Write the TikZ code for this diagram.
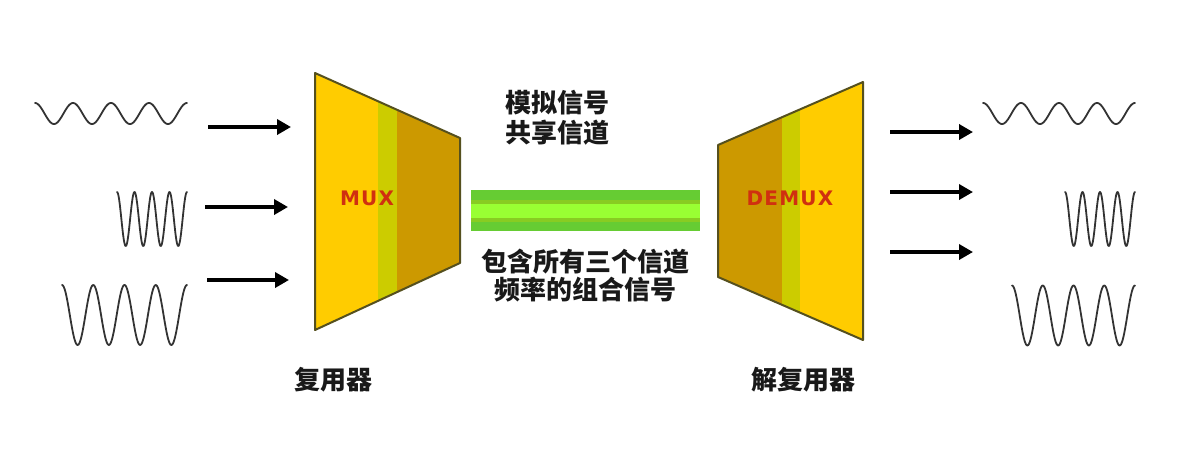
\documentclass[tikz,border=0pt]{standalone}
\usepackage{fontspec}
\usetikzlibrary{arrows.meta}
\newfontfamily\cjk{Noto Sans CJK SC}
\newfontfamily\muxfont{DejaVu Sans}[LetterSpace=6]
\definecolor{lightgold}{HTML}{FFCC00}
\definecolor{darkgold}{HTML}{CC9900}
\definecolor{stripe}{HTML}{CCCC00}
\definecolor{edgeol}{HTML}{55501E}
\definecolor{bardark}{HTML}{66CC33}
\definecolor{barmid}{HTML}{88CC22}
\definecolor{barlight}{HTML}{99FF33}
\definecolor{muxred}{HTML}{D03010}
\begin{document}
\begin{tikzpicture}[x=1pt,y=-1pt,
  wave/.style={line width=1.8pt, draw=black!80, line join=round, line cap=round},
  sigarrow/.style={line width=4pt, -{Triangle[length=14pt,width=15pt]}},
  cjklabel/.style={font=\cjk\bfseries\fontsize{26}{30}\selectfont, text=black!90, inner sep=0pt, anchor=center},
  muxlabel/.style={font=\muxfont\bfseries\fontsize{20}{24}\selectfont, text=muxred, inner sep=0pt},
  trapedge/.style={draw=edgeol, line width=2pt, line join=round}]
\fill[white] (0,0) rectangle (1202,448);
\useasboundingbox (0,0) rectangle (1202,448);

% ---------- input waves ----------
\draw[wave] plot[domain=35:187, samples=160, smooth] (\x, {113.5 - 10.5*cos((\x-35)/38*360)});
\draw[wave] plot[domain=117:187, samples=160, smooth] (\x, {219 - 27*cos((\x-117)/17.5*360)});
\draw[wave] plot[domain=62:187, samples=160, smooth] (\x, {315 - 30*cos((\x-62)/31.25*360)});

% ---------- output waves ----------
\draw[wave] plot[domain=983:1135, samples=160, smooth] (\x, {113.5 - 10.5*cos((\x-983)/38*360)});
\draw[wave] plot[domain=1065:1135, samples=160, smooth] (\x, {219 - 27*cos((\x-1065)/17.5*360)});
\draw[wave] plot[domain=1012:1135, samples=160, smooth] (\x, {315.5 - 30*cos((\x-1012)/30.75*360)});

% ---------- MUX ----------
\coordinate (mA) at (315,73);
\coordinate (mB) at (460,138);
\coordinate (mC) at (460,263);
\coordinate (mD) at (315,330);
\fill[lightgold] (mA) -- (mB) -- (mC) -- (mD) -- cycle;
\begin{scope}
  \clip (mA) -- (mB) -- (mC) -- (mD) -- cycle;
  \fill[stripe] (378,0) rectangle (397,448);
  \fill[darkgold] (397,0) rectangle (461,448);
\end{scope}
\draw[trapedge] (mA) -- (mB) -- (mC) -- (mD) -- cycle;
\node[muxlabel] (mux) at (367,198) {MUX};

% ---------- DEMUX ----------
\coordinate (dA) at (718,145);
\coordinate (dB) at (863,82);
\coordinate (dC) at (863,340);
\coordinate (dD) at (718,277);
\fill[lightgold] (dA) -- (dB) -- (dC) -- (dD) -- cycle;
\begin{scope}
  \clip (dA) -- (dB) -- (dC) -- (dD) -- cycle;
  \fill[darkgold] (717,0) rectangle (782,448);
  \fill[stripe] (782,0) rectangle (800,448);
\end{scope}
\draw[trapedge] (dA) -- (dB) -- (dC) -- (dD) -- cycle;
\node[muxlabel] (demux) at (790,198) {DEMUX};

% ---------- channel bar ----------
\fill[bardark] (471,190) rectangle (700,231);
\fill[barmid] (471,200) rectangle (700,222);
\fill[barlight] (471,204) rectangle (700,218);

% ---------- arrows ----------
\coordinate (la1s) at (208,127); \coordinate (la1e) at (291,127);
\coordinate (la2s) at (205,207); \coordinate (la2e) at (288,207);
\coordinate (la3s) at (207,280); \coordinate (la3e) at (289,280);
\draw[sigarrow] (la1s) -- (la1e);
\draw[sigarrow] (la2s) -- (la2e);
\draw[sigarrow] (la3s) -- (la3e);
\coordinate (ra1s) at (890,132); \coordinate (ra1e) at (973,132);
\coordinate (ra2s) at (890,192); \coordinate (ra2e) at (973,192);
\coordinate (ra3s) at (890,252); \coordinate (ra3e) at (973,252);
\draw[sigarrow] (ra1s) -- (ra1e);
\draw[sigarrow] (ra2s) -- (ra2e);
\draw[sigarrow] (ra3s) -- (ra3e);

% ---------- texts ----------
\node[cjklabel] (t1) at (557,103) {模拟信号};
\node[cjklabel] (t2) at (557,133) {共享信道};
\node[cjklabel] (t3) at (585,262) {包含所有三个信道};
\node[cjklabel] (t4) at (585,290) {频率的组合信号};
\node[cjklabel] (lmux) at (333,380) {复用器};
\node[cjklabel] (ldemux) at (803,380) {解复用器};
\end{tikzpicture}
\end{document}
